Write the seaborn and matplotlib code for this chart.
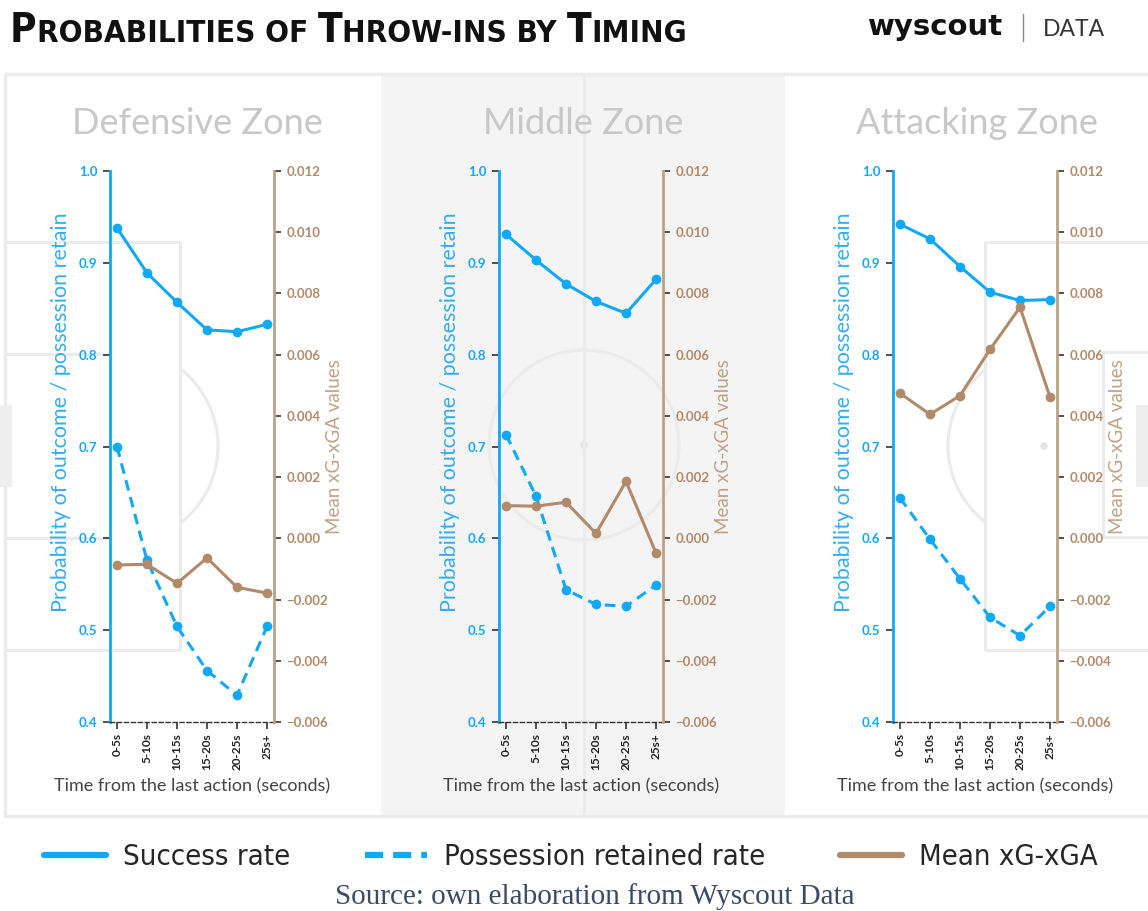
import numpy as np
import pandas as pd
import seaborn as sns
import matplotlib.pyplot as plt
from matplotlib.lines import Line2D
from matplotlib.patches import Rectangle, Arc, Circle
from matplotlib.ticker import FuncFormatter

# dados
categorias = ['0-5s', '5-10s', '10-15s', '15-20s', '20-25s', '25s+']
zonas = ['Defensive Zone', 'Middle Zone', 'Attacking Zone']

def_sucesso = [0.938, 0.889, 0.857, 0.827, 0.825, 0.833]
def_posse = [0.700, 0.576, 0.504, 0.456, 0.429, 0.504]
def_xg = [-0.00087, -0.00085, -0.00147, -0.00064, -0.00160, -0.00179]

mid_sucesso = [0.931, 0.903, 0.877, 0.858, 0.845, 0.882]
mid_posse = [0.713, 0.646, 0.544, 0.528, 0.526, 0.549]
mid_xg = [0.00107, 0.00105, 0.00118, 0.00016, 0.00186, -0.00048]

att_sucesso = [0.942, 0.926, 0.896, 0.868, 0.859, 0.860]
att_posse = [0.644, 0.599, 0.556, 0.514, 0.494, 0.526]
att_xg = [0.00474, 0.00405, 0.00466, 0.00617, 0.00755, 0.00461]

sucesso = [def_sucesso, mid_sucesso, att_sucesso]
posse = [def_posse, mid_posse, att_posse]
xg = [def_xg, mid_xg, att_xg]

AZUL = '#12a9f4'
AZUL_TXT = '#33aef0'
MARROM = '#b08a69'
MARROM_TXT = '#bda285'
LINHA_CAMPO = '#ebebeb'

sns.set_style('white')
plt.rcParams['font.family'] = ['Lato', 'DejaVu Sans']

W, H = 1148, 911
fig = plt.figure(figsize=(W / 100, H / 100), dpi=100)

# fundo com o campo (coordenadas em pixels)
bg = fig.add_axes([0, 0, 1, 1], zorder=-10)
bg.set_xlim(0, W)
bg.set_ylim(H, 0)
bg.axis('off')

bg.add_patch(Rectangle((381, 75), 404, 740, facecolor='#f4f4f4', edgecolor='none'))
bg.add_patch(Rectangle((5, 74), 1160, 742, facecolor='none', edgecolor='#ececec', lw=2.5))
kw = dict(color=LINHA_CAMPO, lw=2.2, solid_capstyle='butt')
# campo defensivo
bg.plot([5, 180, 180, 5], [242, 242, 650, 650], **kw)
bg.plot([5, 110, 110, 5], [354, 354, 538, 538], **kw)
bg.add_patch(Rectangle((0, 405), 12, 82, facecolor='#eeeeee', edgecolor='none'))
bg.add_patch(Arc((120, 446), 196, 196, theta1=-52, theta2=52, color=LINHA_CAMPO, lw=2.2))
# meio
bg.plot([584, 584], [75, 815], **kw)
bg.add_patch(Arc((584, 445), 190, 190, color=LINHA_CAMPO, lw=2.2))
bg.add_patch(Circle((584, 445), 3, color='#e4e4e4'))
# campo de ataque
bg.plot([1148, 985, 985, 1148], [242, 242, 650, 650], **kw)
bg.plot([1148, 1103, 1103, 1148], [352, 352, 537, 537], **kw)
bg.add_patch(Rectangle((1136, 405), 12, 82, facecolor='#eeeeee', edgecolor='none'))
bg.add_patch(Arc((1044, 446), 192, 192, theta1=128, theta2=232, color=LINHA_CAMPO, lw=2.2))
bg.add_patch(Circle((1044, 446), 3, color='#e4e4e4'))


# titulo em versalete
def versalete(x0, y0, partes, cor='#111111'):
    fam = ['DejaVu Sans']
    prev = None
    for s, tam in partes:
        if prev is None:
            prev = bg.text(x0, y0, s, fontsize=tam, fontweight='bold', family=fam,
                           fontstretch='condensed', color=cor, va='baseline', ha='left')
        else:
            prev = bg.annotate(s, xy=(1, y0), xycoords=(prev, bg.transData),
                               fontsize=tam, fontweight='bold', family=fam,
                               fontstretch='condensed', color=cor,
                               va='baseline', ha='left')
    return prev


versalete(10, 42, [('P', 29), ('ROBABILITIES OF ', 22.5), ('T', 29),
                   ('HROW-INS BY ', 22.5), ('T', 29), ('IMING', 22.5)])

bg.text(868, 35, 'wyscout', fontsize=21, fontweight='heavy', family=['DejaVu Sans'],
        color='#111111', va='baseline', ha='left')
bg.plot([1023, 1023], [14, 41], color='#888888', lw=1)
bg.text(1043, 36, 'DATA', fontsize=16.5, color='#333333', va='baseline', ha='left')

esq = [110, 499, 893]
larg = 164
topo, base = 171, 722
centros = [197, 583, 977]

for i in range(3):
    ax = fig.add_axes([esq[i] / W, 1 - base / H, larg / W, (base - topo) / H])
    ax.set_facecolor('none')
    ax2 = ax.twinx()

    sns.lineplot(x=categorias, y=sucesso[i], ax=ax, color=AZUL, lw=2.2, marker='o',
                 markersize=7, markeredgewidth=0, sort=False)
    sns.lineplot(x=categorias, y=posse[i], ax=ax, color=AZUL, lw=2.2, marker='o',
                 markersize=7, markeredgewidth=0, sort=False, linestyle=(0, (3.5, 2.2)))
    sns.lineplot(x=categorias, y=xg[i], ax=ax2, color=MARROM, lw=2.2, marker='o',
                 markersize=7, markeredgewidth=0, sort=False)

    ax.set_xlim(-0.233, 5.233)
    ax.set_ylim(0.4, 1.0)
    ax2.set_ylim(-0.006, 0.012)
    ax.set_yticks(np.arange(0.4, 1.01, 0.1))
    ax2.set_yticks(np.arange(-0.006, 0.0121, 0.002))
    ax.yaxis.set_major_formatter(FuncFormatter(lambda v, p: f'{v:.1f}'))
    ax2.yaxis.set_major_formatter(FuncFormatter(lambda v, p: f'{v:.3f}'.replace('-', '\u2212')))

    for a in (ax, ax2):
        a.spines['top'].set_visible(False)
    ax.spines['right'].set_visible(False)
    ax2.spines['left'].set_visible(False)
    ax2.spines['bottom'].set_visible(False)
    ax.spines['left'].set_color(AZUL)
    ax.spines['left'].set_linewidth(2)
    ax2.spines['right'].set_color(MARROM_TXT)
    ax2.spines['right'].set_linewidth(2)
    ax.spines['bottom'].set_color('#333333')
    ax.spines['bottom'].set_linewidth(1)
    ax.spines['bottom'].set_linestyle((0, (3, 2)))

    ax.tick_params(axis='y', left=True, length=5, width=1.2, color='#333333',
                   labelcolor=AZUL, labelsize=9.5, pad=4)
    ax2.tick_params(axis='y', right=True, length=5, width=1.2, color='#333333',
                    labelcolor=MARROM, labelsize=9.5, pad=4)
    ax.tick_params(axis='x', bottom=True, length=5, width=1.2, color='#333333',
                   labelcolor='#222222', labelsize=8.5, rotation=90, pad=3)
    for lab in ax.get_yticklabels() + ax2.get_yticklabels() + ax.get_xticklabels():
        lab.set_fontweight('bold')

    ax.set_ylabel('Probability of outcome / possession retain', color=AZUL_TXT,
                  fontsize=15.5)
    ax.yaxis.set_label_coords(-0.238, 0.563)
    ax2.set_ylabel('Mean xG-xGA values', color=MARROM_TXT, fontsize=13.5)
    ax2.yaxis.set_label_coords(1.317, 0.5)
    ax.set_xlabel('Time from the last action (seconds)', color='#444444', fontsize=13,
                  labelpad=6)

    bg.text(centros[i], 123, zonas[i], fontsize=26, color='#c8c8c8', ha='center',
            va='center')

handles = [Line2D([], [], color=AZUL, lw=4.5),
           Line2D([], [], color=AZUL, lw=4.5, linestyle=(0, (2.9, 1.6))),
           Line2D([], [], color=MARROM, lw=4.5)]
fig.legend(handles, ['Success rate', 'Possession retained rate', 'Mean xG-xGA'],
           loc='center', bbox_to_anchor=(0.497, 1 - 857 / H), ncol=3, frameon=False,
           prop={'family': ['DejaVu Sans'], 'size': 21, 'stretch': 'condensed'},
           handlelength=2.12, handletextpad=0.58, columnspacing=2.57)

fig.text(0.518, 1 - 897 / H, 'Source: own elaboration from Wyscout Data',
         family=['Liberation Serif', 'DejaVu Serif'], fontsize=21, color='#3c4a66',
         ha='center', va='center')

fig.savefig('out.png', dpi=100)
